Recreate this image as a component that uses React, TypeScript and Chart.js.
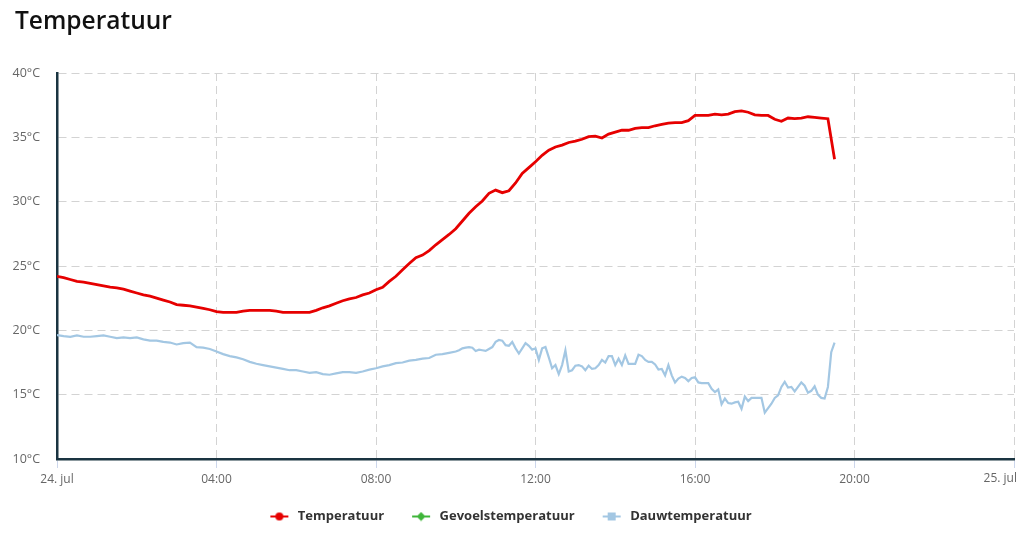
import React, { useEffect, useRef } from 'react';
import { Chart, registerables } from 'chart.js';

Chart.register(...registerables);

// hours of the day, 24 jul
const tempTimes10 = Array.from({ length: 118 }, (_, i) => i / 6);
const dewTimes10 = Array.from({ length: 61 }, (_, i) => i / 6);
const dewTimes5 = Array.from({ length: 114 }, (_, i) => 10 + (i + 1) / 12);

const xTickLabels = ['24. jul', '04:00', '08:00', '12:00', '16:00', '20:00', '25. jul'];
const yTicks = [10, 15, 20, 25, 30, 35, 40];

// every 10 minutes, 00:00 - 19:30
const temperatuur = [
  24.2, 24.1, 23.95, 23.8, 23.75, 23.65, 23.55, 23.45, 23.35, 23.3, 23.2, 23.05,
  22.9, 22.75, 22.65, 22.5, 22.35, 22.2, 22.0, 21.95, 21.9, 21.8, 21.7, 21.6,
  21.45, 21.4, 21.4, 21.4, 21.5, 21.55, 21.55, 21.55, 21.55, 21.5, 21.4, 21.4,
  21.4, 21.4, 21.4, 21.55, 21.75, 21.9, 22.1, 22.3, 22.45, 22.55, 22.75, 22.9,
  23.15, 23.35, 23.8, 24.2, 24.7, 25.2, 25.65, 25.85, 26.2, 26.65, 27.05, 27.45,
  27.9, 28.5, 29.1, 29.6, 30.05, 30.65, 30.9, 30.7, 30.85, 31.45, 32.2, 32.65,
  33.1, 33.6, 34.0, 34.25, 34.4, 34.6, 34.7, 34.85, 35.05, 35.1, 34.95, 35.25,
  35.4, 35.55, 35.55, 35.7, 35.75, 35.75, 35.9, 36.0, 36.1, 36.15, 36.15, 36.3,
  36.7, 36.7, 36.7, 36.8, 36.75, 36.8, 37.0, 37.05, 36.95, 36.75, 36.7, 36.7,
  36.4, 36.25, 36.5, 36.45, 36.5, 36.6, 36.55, 36.5, 36.45, 33.3,
];

// every 10 minutes, 00:00 - 10:00
const dauwOchtend = [
  19.63, 19.55, 19.5, 19.6, 19.5, 19.5, 19.55, 19.6, 19.5, 19.4, 19.45, 19.4,
  19.45, 19.3, 19.2, 19.2, 19.1, 19.05, 18.9, 19.0, 19.05, 18.7, 18.65, 18.55,
  18.35, 18.15, 18.0, 17.9, 17.75, 17.55, 17.4, 17.3, 17.2, 17.1, 17.0, 16.9,
  16.9, 16.8, 16.7, 16.75, 16.6, 16.55, 16.65, 16.75, 16.75, 16.7, 16.8, 16.95,
  17.05, 17.2, 17.3, 17.45, 17.5, 17.65, 17.7, 17.8, 17.85, 18.1, 18.15, 18.25,
  18.35,
];

// every 5 minutes, 10:05 - 19:30
const dauwMiddag = [
  18.45, 18.6, 18.65, 18.7, 18.65, 18.4, 18.5, 18.45, 18.4, 18.55, 18.7, 19.1,
  19.25, 19.2, 18.85, 18.8, 19.1, 18.6, 18.2, 18.6, 19.0, 18.8, 18.5, 18.6,
  17.7, 18.6, 18.7, 17.9, 17.05, 17.3, 16.6, 17.3, 18.45, 16.8, 16.9, 17.25,
  17.3, 17.2, 16.9, 17.25, 17.0, 17.05, 17.3, 17.7, 17.5, 18.0, 18.0, 17.3,
  17.8, 17.3, 18.05, 17.4, 17.4, 17.4, 18.1, 18.0, 17.7, 17.55, 17.55, 17.35,
  16.95, 17.0, 16.5, 17.3, 16.5, 15.95, 16.25, 16.4, 16.3, 16.05, 16.3, 16.35,
  15.95, 15.9, 15.9, 15.9, 15.45, 15.2, 15.4, 14.25, 14.7, 14.35, 14.3, 14.4,
  14.45, 13.9, 14.85, 14.5, 14.75, 14.75, 14.75, 14.75, 13.6, 13.95, 14.3, 14.75,
  14.95, 15.6, 16.0, 15.55, 15.6, 15.25, 15.6, 15.95, 15.7, 15.15, 15.3, 15.65,
  15.0, 14.75, 14.7, 15.6, 18.3, 19.05,
];

const gevoelstemperatuur: number[] = [];

const RED = '#e60000';
const GREEN = '#3fb53a';
const BLUE = '#a3c7e3';

// legend symbol: short line with a marker, some empty room on the left for spacing
function makeMarker(color: string, shape: 'circle' | 'diamond' | 'square') {
  const c = document.createElement('canvas');
  c.width = 29;
  c.height = 10;
  const ctx = c.getContext('2d')!;
  const x0 = 8;
  const mid = x0 + 9;
  ctx.strokeStyle = color;
  ctx.fillStyle = color;
  ctx.lineWidth = 2;
  ctx.beginPath();
  ctx.moveTo(x0, 5);
  ctx.lineTo(x0 + 18, 5);
  ctx.stroke();
  ctx.beginPath();
  if (shape === 'circle') {
    ctx.arc(mid, 5, 4, 0, Math.PI * 2);
  } else if (shape === 'diamond') {
    ctx.moveTo(mid, 0.5);
    ctx.lineTo(mid + 4.5, 5);
    ctx.lineTo(mid, 9.5);
    ctx.lineTo(mid - 4.5, 5);
    ctx.closePath();
  } else {
    ctx.rect(mid - 4, 1, 8, 8);
  }
  ctx.fill();
  return c;
}

// the last x label sits left of its tick instead of overflowing
const lastLabelPlugin = {
  id: 'lastLabel',
  afterDraw(chart: any) {
    const { ctx, chartArea } = chart;
    ctx.save();
    ctx.font = '12px "Open Sans", sans-serif';
    ctx.fillStyle = '#666';
    ctx.textAlign = 'right';
    ctx.textBaseline = 'middle';
    ctx.fillText(xTickLabels[xTickLabels.length - 1], chartArea.right + 3, chartArea.bottom + 20);
    ctx.restore();
  },
};

const App: React.FC = () => {
  const canvasRef = useRef<HTMLCanvasElement>(null);
  const chartRef = useRef<Chart | null>(null);

  useEffect(() => {
    if (!canvasRef.current) return;
    const markers = [makeMarker(RED, 'circle'), makeMarker(GREEN, 'diamond'), makeMarker(BLUE, 'square')];

    const dewData = [
      ...dewTimes10.map((x, i) => ({ x, y: dauwOchtend[i] })),
      ...dewTimes5.map((x, i) => ({ x, y: dauwMiddag[i] })),
    ];

    chartRef.current = new Chart(canvasRef.current, {
      type: 'line',
      data: {
        datasets: [
          {
            label: 'Temperatuur',
            data: tempTimes10.map((x, i) => ({ x, y: temperatuur[i] })),
            borderColor: RED,
            backgroundColor: RED,
            borderWidth: 2.8,
            pointRadius: 0,
          },
          {
            label: 'Gevoelstemperatuur',
            data: gevoelstemperatuur,
            borderColor: GREEN,
            backgroundColor: GREEN,
            borderWidth: 2,
            pointRadius: 0,
          },
          {
            label: 'Dauwtemperatuur',
            data: dewData,
            borderColor: BLUE,
            backgroundColor: BLUE,
            borderWidth: 2.2,
            pointRadius: 0,
          },
        ],
      },
      options: {
        animation: false,
        responsive: true,
        maintainAspectRatio: false,
        layout: { padding: { top: 73, left: 0, right: 10, bottom: 4 } },
        plugins: {
          tooltip: { enabled: false },
          legend: {
            position: 'bottom',
            labels: {
              usePointStyle: true,
              pointStyleWidth: 29,
              padding: 20,
              color: '#333',
              font: { family: '"Open Sans", sans-serif', size: 13, weight: 'bold' },
              generateLabels: (chart: any) =>
                Chart.defaults.plugins.legend.labels
                  .generateLabels(chart)
                  .map((l: any, i: number) => ({ ...l, pointStyle: markers[i] })),
            },
          },
        },
        scales: {
          x: {
            type: 'linear',
            min: 0,
            max: 24,
            afterBuildTicks: (s: any) => {
              s.ticks = [0, 4, 8, 12, 16, 20, 24].map((v) => ({ value: v }));
            },
            afterFit: (s: any) => {
              s.height = 31;
              s.paddingLeft = 0;
              s.paddingRight = 0;
            },
            ticks: {
              color: '#666',
              font: { family: '"Open Sans", sans-serif', size: 12 },
              padding: 4,
              maxRotation: 0,
              autoSkip: false,
              callback: (v: any) => {
                const idx = Math.round(Number(v) / 4);
                return idx === xTickLabels.length - 1 ? '' : xTickLabels[idx];
              },
            },
            grid: {
              color: '#d3d3d3',
              lineWidth: 1,
              tickLength: 9,
              tickColor: '#ccd6eb',
            },
            border: { color: '#1a3441', width: 2.5, dash: [8, 5] },
          },
          y: {
            min: 10,
            max: 40,
            afterBuildTicks: (s: any) => {
              s.ticks = yTicks.map((v) => ({ value: v }));
            },
            afterFit: (s: any) => {
              s.width = 57;
            },
            ticks: {
              color: '#666',
              font: { family: '"Open Sans", sans-serif', size: 12.5 },
              padding: 17,
              callback: (v: any) => `${v}°C`,
            },
            grid: {
              color: '#d3d3d3',
              lineWidth: 1,
              drawTicks: false,
            },
            border: { color: '#1a3441', width: 2.5, dash: [8, 5] },
          },
        },
      },
      plugins: [lastLabelPlugin],
    });

    return () => {
      chartRef.current?.destroy();
    };
  }, []);

  return (
    <div style={{ position: 'fixed', left: 0, top: 0, width: 1024, height: 537, background: '#fff' }}>
      <div
        style={{
          position: 'absolute',
          left: 15,
          top: 3,
          fontFamily: '"Open Sans", sans-serif',
          fontSize: 24.5,
          fontWeight: 600,
          color: '#111',
          zIndex: 1,
        }}
      >
        Temperatuur
      </div>
      <div style={{ position: 'absolute', left: 0, top: 0, width: 1024, height: 537 }}>
        <canvas ref={canvasRef}></canvas>
      </div>
    </div>
  );
};

export default App;
